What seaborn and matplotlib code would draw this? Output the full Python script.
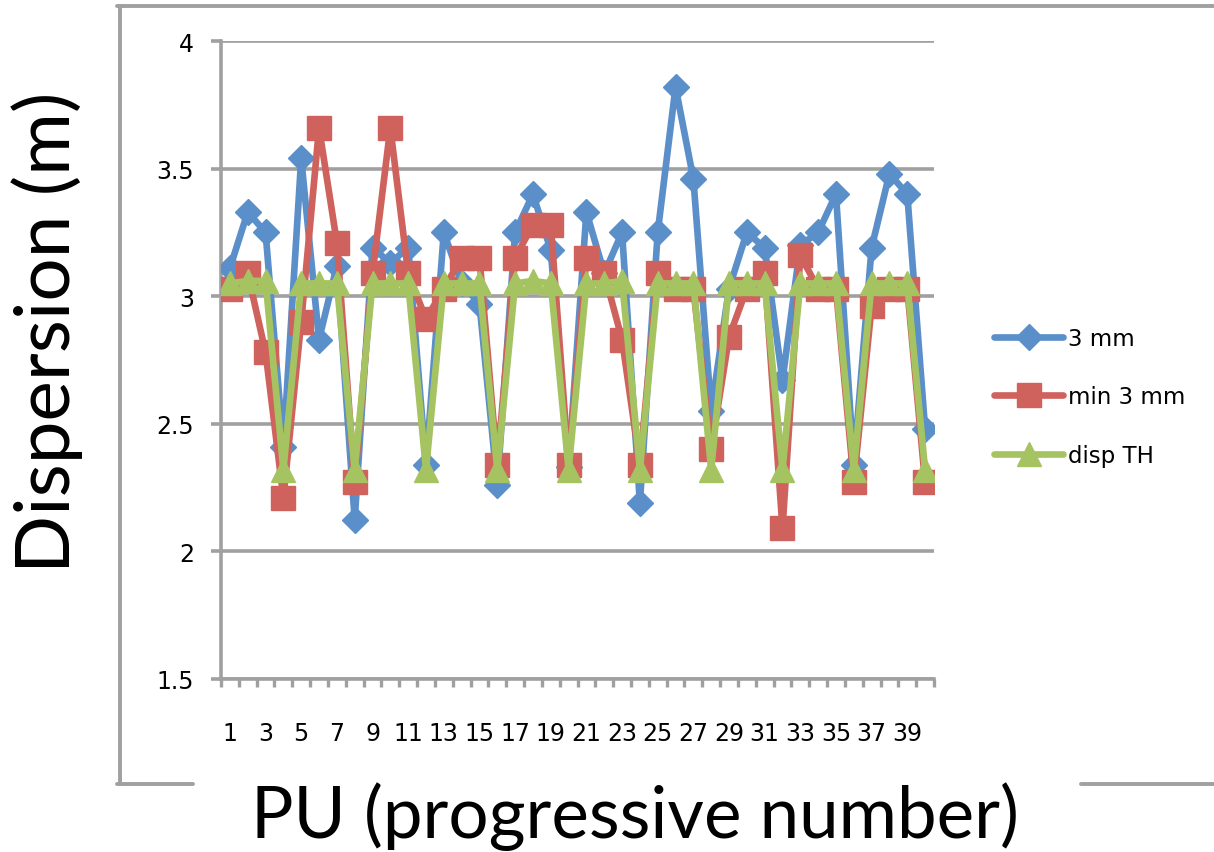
import matplotlib
matplotlib.use("Agg")
import matplotlib.pyplot as plt
from matplotlib.lines import Line2D
import seaborn as sns
import numpy as np

# ---- data ----
pu = list(range(1, 41))
disp_3mm = [3.11, 3.33, 3.25, 2.41, 3.54, 2.83, 3.12, 2.125, 3.19, 3.13,
            3.19, 2.34, 3.25, 3.05, 2.97, 2.26, 3.25, 3.40, 3.18, 2.33,
            3.33, 3.09, 3.25, 2.19, 3.25, 3.82, 3.46, 2.55, 3.03, 3.25,
            3.19, 2.67, 3.20, 3.25, 3.40, 2.34, 3.19, 3.48, 3.40, 2.48]
disp_min3mm = [3.03, 3.09, 2.78, 2.21, 2.90, 3.66, 3.21, 2.27, 3.09, 3.66,
               3.09, 2.91, 3.03, 3.15, 3.15, 2.34, 3.15, 3.28, 3.28, 2.34,
               3.15, 3.09, 2.83, 2.34, 3.09, 3.03, 3.03, 2.40, 2.84, 3.03,
               3.09, 2.09, 3.16, 3.03, 3.03, 2.27, 2.96, 3.03, 3.03, 2.27]
disp_th = [3.05, 3.06, 3.06, 2.32, 3.05, 3.05, 3.05, 2.32, 3.05, 3.05,
           3.05, 2.32, 3.05, 3.05, 3.05, 2.32, 3.05, 3.06, 3.05, 2.32,
           3.05, 3.05, 3.06, 2.32, 3.05, 3.05, 3.05, 2.32, 3.05, 3.05,
           3.05, 2.32, 3.05, 3.05, 3.05, 2.32, 3.05, 3.05, 3.05, 2.32]
series_labels = ["3 mm", "min 3 mm", "disp TH"]
y_ticks = [1.5, 2, 2.5, 3, 3.5, 4]
y_tick_labels = ["1.5", "2", "2.5", "3", "3.5", "4"]
x_tick_values = list(range(1, 40, 2))
x_label = "PU (progressive number)"
y_label = "Dispersion (m)"

# ---- style ----
sns.set_theme(style="white")
plt.rcParams["font.family"] = ["DejaVu Sans"]
plt.rcParams["text.color"] = "black"

W, H = 1214, 853
fig = plt.figure(figsize=(W / 100, H / 100), dpi=100)
ax = fig.add_axes([221 / W, (H - 680) / H, (934 - 221) / W, (680 - 42) / H])

GRAY = "#A0A0A0"
colors = ["#5B8FC9", "#CF625D", "#A6C362"]
markers = ["D", "s", "^"]
msizes = [13.5, 17.5, 17.5]
LW = 4.8

for vals, lab, c, m, ms in zip([disp_3mm, disp_min3mm, disp_th], series_labels,
                               colors, markers, msizes):
    sns.lineplot(x=pu, y=vals, ax=ax, color=c, linewidth=LW, marker=m,
                 markersize=ms, markeredgecolor=c, markeredgewidth=1,
                 label=lab, legend=False)

ax.set_xlim(0.5, 40.5)
ax.set_ylim(1.5, 4)
ax.set_yticks(y_ticks)
ax.set_yticklabels(y_tick_labels)
ax.set_xticks(x_tick_values)
ax.set_xticklabels([str(v) for v in x_tick_values])
ax.set_xticks(np.arange(0.5, 41, 1.0), minor=True)

ax.yaxis.grid(True, color=GRAY, linewidth=2.6)
ax.xaxis.grid(False)
ax.set_axisbelow(True)
for s in ["top", "right"]:
    ax.spines[s].set_visible(False)
for s in ["left", "bottom"]:
    ax.spines[s].set_color(GRAY)
    ax.spines[s].set_linewidth(2.6)
    ax.spines[s].set_zorder(0.5)

ax.tick_params(axis="y", which="major", left=True, length=7.5, width=2.6,
               color=GRAY, labelsize=17, pad=12, labelcolor="black")
ax.tick_params(axis="x", which="major", bottom=False, length=0, labelsize=17,
               pad=30, labelcolor="black")
ax.tick_params(axis="x", which="minor", bottom=True, length=6, width=2.4,
               color=GRAY)
ax.set_xlabel("")
ax.set_ylabel("")

# legend
handles = [Line2D([0], [0], color=c, linewidth=LW, marker=m, markersize=ms,
                  markeredgecolor=c, markeredgewidth=1)
           for c, m, ms in zip(colors, markers, msizes)]
leg = fig.legend(handles, series_labels, loc="center left",
                 bbox_to_anchor=(983 / W, (H - 398) / H), frameon=False,
                 fontsize=16.5, handlelength=3.0, handletextpad=0.2,
                 labelspacing=1.55, borderpad=0)
for t in leg.get_texts():
    t.set_color("black")

# chart-area border (partially hidden by the x title)
lw_b = 2.8
fig.add_artist(Line2D([117 / W, 1.0], [(H - 7) / H] * 2, color=GRAY, lw=lw_b))
fig.add_artist(Line2D([120 / W] * 2, [(H - 7) / H, (H - 785) / H], color=GRAY, lw=lw_b))
fig.add_artist(Line2D([117 / W, 193 / W], [(H - 785) / H] * 2, color=GRAY, lw=lw_b))
fig.add_artist(Line2D([1081 / W, 1.0], [(H - 785) / H] * 2, color=GRAY, lw=lw_b))

# axis titles
fig.text(47 / W, (H - 332) / H, y_label, rotation=90, ha="center",
         va="center", fontsize=55, color="black", family=["Lato", "DejaVu Sans"])
fig.text(635 / W, (H - 838) / H, x_label, ha="center", va="baseline",
         fontsize=51, color="black", family=["Lato", "DejaVu Sans"])

fig.savefig("out.png", dpi=100, facecolor="white")
